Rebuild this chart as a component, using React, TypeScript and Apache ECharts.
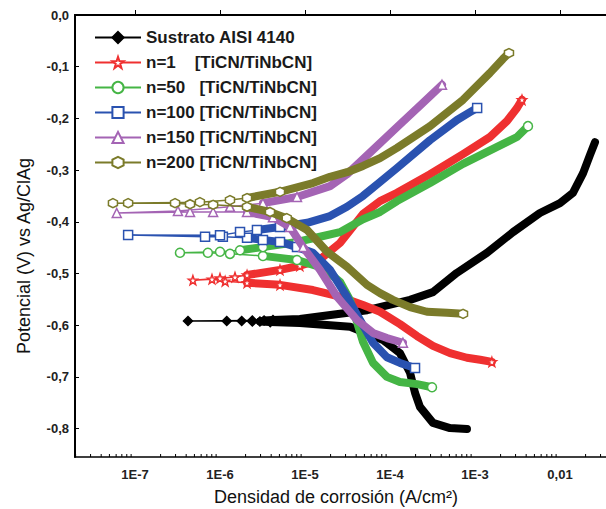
import React, { useEffect, useRef } from 'react';
import * as echarts from 'echarts';

// ---------- data (current density A/cm², potential V) ----------
const SERIES_NAMES = [
  'Sustrato AISI 4140',
  'n=1    [TiCN/TiNbCN]',
  'n=50   [TiCN/TiNbCN]',
  'n=100 [TiCN/TiNbCN]',
  'n=150 [TiCN/TiNbCN]',
  'n=200 [TiCN/TiNbCN]',
];

const sustrato: number[][] = [
  [8.05e-4, -0.801], [5.08e-4, -0.799], [3.2e-4, -0.789], [2.25e-4, -0.758], [1.97e-4, -0.731],
  [1.72e-4, -0.692], [1.31e-4, -0.654], [8.3e-5, -0.629], [3.4e-5, -0.603], [8.7e-6, -0.596],
  [3.9e-6, -0.594], [2.95e-6, -0.593], [2.4e-6, -0.593], [1.8e-6, -0.592], [1.2e-6, -0.592],
  [4.2e-7, -0.592], [2.4e-6, -0.591], [3.3e-6, -0.591], [4.2e-6, -0.59], [8.7e-6, -0.588],
  [2.1e-5, -0.58], [5.4e-5, -0.571], [1.72e-4, -0.551], [3.2e-4, -0.536], [6.1e-4, -0.499],
  [1.38e-3, -0.46], [2.8e-3, -0.42], [5.8e-3, -0.383], [1e-2, -0.364], [1.42e-2, -0.344],
  [1.87e-2, -0.306], [2.25e-2, -0.271], [2.58e-2, -0.246],
];

const n1: number[][] = [
  [1.58e-3, -0.671], [1.15e-3, -0.667], [8.05e-4, -0.663], [5.08e-4, -0.654], [3.2e-4, -0.64],
  [2.08e-4, -0.621], [1.31e-4, -0.598], [7.63e-5, -0.574], [4.81e-5, -0.561], [2.58e-5, -0.545],
  [1.24e-5, -0.532], [5.08e-6, -0.522], [2.08e-6, -0.518], [1.15e-6, -0.515], [8.05e-7, -0.511],
  [4.8e-7, -0.513], [1e-6, -0.509], [1.5e-6, -0.507], [2.08e-6, -0.503], [5.08e-6, -0.493],
  [8.7e-6, -0.485], [1.31e-5, -0.476], [1.63e-5, -0.468], [2.58e-5, -0.441], [4.81e-5, -0.385],
  [7.63e-5, -0.36], [1.21e-4, -0.344], [2.96e-4, -0.308], [7.23e-4, -0.269], [1.5e-3, -0.236],
  [2.38e-3, -0.205], [3.12e-3, -0.18], [3.57e-3, -0.164],
];

const n50: number[][] = [
  [3.12e-4, -0.72], [2.08e-4, -0.714], [1.31e-4, -0.71], [9.2e-5, -0.7], [6.31e-5, -0.673],
  [4.81e-5, -0.632], [4.09e-5, -0.594], [3.38e-5, -0.551], [2.58e-5, -0.516], [1.63e-5, -0.489],
  [8.05e-6, -0.474], [3.2e-6, -0.466], [1.31e-6, -0.462], [7.2e-7, -0.46], [3.38e-7, -0.46],
  [1e-6, -0.458], [1.72e-6, -0.455], [3.2e-6, -0.449], [8.05e-6, -0.439], [1.5e-5, -0.429],
  [2.58e-5, -0.42], [4.81e-5, -0.395], [7.63e-5, -0.381], [1.21e-4, -0.36], [2.96e-4, -0.325],
  [7.23e-4, -0.288], [1.82e-3, -0.255], [3.12e-3, -0.236], [4.2e-3, -0.215],
];

const n100: number[][] = [
  [1.97e-4, -0.683], [1.31e-4, -0.673], [9.2e-5, -0.662], [6.31e-5, -0.634], [4.44e-5, -0.59],
  [3.12e-5, -0.545], [1.97e-5, -0.493], [1.24e-5, -0.46], [8.05e-6, -0.449], [5.08e-6, -0.439],
  [3.2e-6, -0.435], [2.08e-6, -0.431], [1.08e-6, -0.429], [6.67e-7, -0.429], [8.3e-8, -0.4255],
  [1e-6, -0.426], [1.72e-6, -0.42], [2.72e-6, -0.416], [5.08e-6, -0.41], [1.06e-5, -0.402],
  [1.97e-5, -0.389], [3.12e-5, -0.371], [4.81e-5, -0.35], [7.63e-5, -0.323], [1.21e-4, -0.296],
  [2.96e-4, -0.242], [6.14e-4, -0.203], [8.73e-4, -0.188], [1.06e-3, -0.18],
];

const n150: number[][] = [
  [1.42e-4, -0.634], [9.2e-5, -0.625], [6.31e-5, -0.615], [4.09e-5, -0.59], [2.38e-5, -0.545],
  [1.5e-5, -0.493], [9.5e-6, -0.449], [6.67e-6, -0.41], [4.2e-6, -0.391], [2.08e-6, -0.381],
  [8.3e-7, -0.381], [4.44e-7, -0.381], [6.1e-8, -0.383], [3.2e-7, -0.379], [1.31e-6, -0.371],
  [3.2e-6, -0.364], [8.05e-6, -0.352], [1.97e-5, -0.331], [3.12e-5, -0.308], [4.81e-5, -0.279],
  [1.21e-4, -0.217], [2.44e-4, -0.17], [4.09e-4, -0.135],
];

const n200: number[][] = [
  [7.23e-4, -0.578], [4.69e-4, -0.576], [2.72e-4, -0.574], [1.72e-4, -0.565], [1.08e-4, -0.551],
  [7.63e-5, -0.538], [5.36e-5, -0.522], [3.12e-5, -0.487], [1.82e-5, -0.458], [1.06e-5, -0.416],
  [6.1e-6, -0.393], [3.87e-6, -0.381], [2.08e-6, -0.371], [8.3e-7, -0.367], [4.44e-7, -0.366],
  [2.96e-7, -0.364], [8.3e-8, -0.364], [5.5e-8, -0.364], [5.8e-7, -0.362], [1.31e-6, -0.358],
  [2.08e-6, -0.354], [5.08e-6, -0.342], [1.24e-5, -0.325], [1.97e-5, -0.313], [3.12e-5, -0.304],
  [4.81e-5, -0.292], [7.63e-5, -0.277], [1.21e-4, -0.257], [2.96e-4, -0.215], [7.23e-4, -0.164],
  [1.5e-3, -0.112], [2.13e-3, -0.085], [2.51e-3, -0.0735],
];

const SERIES_DATA = [sustrato, n1, n50, n100, n150, n200];

// axis ranges
const X_MIN = 1.968e-8;
const X_MAX = 0.1;
const Y_MIN = -0.855;
const Y_MAX = 0;
const MINOR_DECADES = [-8, -7, -6, -5, -4, -3, -2];
const MINOR_FACTORS = [2, 3, 4, 5, 6, 7, 8, 9];

// ---------- styles ----------
const COLORS = ['#000000', '#ef3030', '#45b545', '#2a52b0', '#a464b4', '#7b7b2a'];
const STAR = 'path://M0,-10 L2.35,-3.24 9.51,-3.09 3.8,1.24 5.88,8.09 0,4 -5.88,8.09 -3.8,1.24 -9.51,-3.09 -2.35,-3.24 Z';
const HEX = 'path://M-8.66,-5 L0,-10 8.66,-5 8.66,5 0,10 -8.66,5 Z';
const SYMBOLS = ['diamond', STAR, 'circle', 'rect', 'triangle', HEX];
const SYM_MAX = [5e-6, 1e-5, 1e-5, 1e-5, 1e-5, 1e-5];
const BAND_MIN = [2.5e-6, 1.8e-6, 1.5e-6, 2e-6, 1.8e-6, 1.8e-6];

const FONT = 'Liberation Sans, Arial, sans-serif';

function fmtX(v: number): string {
  const e = Math.round(Math.log10(v));
  if (e > -2) return '';
  if (e === -2) return '0,01';
  return '1E' + e;
}

function buildOption() {
  const series: any[] = [];
  const bands: any[] = [];
  SERIES_DATA.forEach((data, si) => {
    const color = COLORS[si];
    const filled = si === 0;
    const last = data.length - 1;
    series.push({
      name: SERIES_NAMES[si],
      type: 'line',
      data,
      z: 3 + si * 2 + 1,
      symbol: SYMBOLS[si],
      symbolSize: (v: number[], p: any) =>
        (p.dataIndex === 0 && !filled) || (p.dataIndex === last && !filled) || v[0] < SYM_MAX[si] ? 9 : 0,
      showSymbol: true,
      lineStyle: { color, width: 1.5 },
      itemStyle: { color: filled ? color : '#ffffff', borderColor: color, borderWidth: 1.5 },
      emphasis: { disabled: true },
    });
    // dense-region bands (contiguous runs)
    let run: number[][] = [];
    const flush = () => {
      if (run.length > 1) {
        bands.push({
          name: SERIES_NAMES[si],
          type: 'line',
          data: run,
          z: 3 + si * 2,
          symbol: 'none',
          lineStyle: { color, width: 8, cap: 'round', join: 'round' },
          emphasis: { disabled: true },
        });
      }
      run = [];
    };
    data.forEach((pt) => {
      if (pt[0] >= BAND_MIN[si]) run.push(pt);
      else flush();
    });
    flush();
  });

  const minorData: number[][] = [];
  MINOR_DECADES.forEach((d) =>
    MINOR_FACTORS.forEach((f) => {
      const v = f * Math.pow(10, d);
      if (v > X_MIN && v < X_MAX) minorData.push([v, Y_MIN]);
    })
  );

  return {
    animation: false,
    backgroundColor: '#ffffff',
    textStyle: { fontFamily: FONT },
    grid: {
      left: 75,
      top: 15,
      width: 570,
      height: 442,
      show: true,
      borderColor: '#000',
      borderWidth: 1.5,
      containLabel: false,
      outerBoundsMode: 'none',
    },
    legend: {
      data: SERIES_NAMES,
      orient: 'vertical',
      left: 89,
      top: 24,
      itemWidth: 46,
      itemHeight: 14,
      itemGap: 8,
      selectedMode: false,
      textStyle: { fontSize: 17, fontWeight: 'bold', color: '#1a1a1a', fontFamily: FONT, lineHeight: 17 },
    },
    xAxis: {
      type: 'log',
      logBase: 10,
      min: X_MIN,
      max: X_MAX,
      splitLine: { show: false },
      axisLine: { lineStyle: { color: '#000', width: 2 } },
      axisTick: { inside: true, length: 5, lineStyle: { color: '#000', width: 1 } },
      axisLabel: {
        showMinLabel: false,
        showMaxLabel: false,
        margin: 11,
        fontSize: 13,
        fontWeight: 'bold',
        color: '#222',
        fontFamily: FONT,
        formatter: (v: number) => fmtX(v),
      },
    },
    yAxis: {
      type: 'value',
      min: Y_MIN,
      max: Y_MAX,
      splitNumber: 8,
      splitLine: { show: false },
      axisLine: { show: true, lineStyle: { color: '#000', width: 2 } },
      axisTick: { show: true, inside: true, length: 4, lineStyle: { color: '#000', width: 1 } },
      axisLabel: {
        showMinLabel: false,
        margin: 6,
        fontSize: 13,
        fontWeight: 'bold',
        color: '#222',
        fontFamily: FONT,
        formatter: (v: number) => v.toFixed(1).replace('.', ','),
      },
    },
    graphic: [
      {
        type: 'text',
        x: 336,
        y: 497,
        style: {
          text: 'Densidad de corrosión (A/cm²)',
          fontSize: 18,
          fontFamily: FONT,
          fill: '#111',
          align: 'center',
          verticalAlign: 'middle',
        },
      },
      {
        type: 'text',
        x: 24,
        y: 256,
        rotation: Math.PI / 2,
        style: {
          text: 'Potencial (V) vs Ag/ClAg',
          fontSize: 18,
          fontFamily: FONT,
          fill: '#111',
          align: 'center',
          verticalAlign: 'middle',
        },
      },
    ],
    series: [
      ...series,
      ...bands,
      {
        type: 'custom',
        silent: true,
        data: minorData,
        encode: { x: 0, y: 1 },
        z: 20,
        clip: false,
        renderItem: (params: any, api: any) => {
          const p = api.coord([api.value(0), Y_MIN]);
          return {
            type: 'line',
            shape: { x1: p[0], y1: p[1], x2: p[0], y2: p[1] - 3 },
            style: { stroke: '#000', lineWidth: 1 },
          };
        },
      },
    ],
  };
}

export default function App() {
  const ref = useRef<HTMLDivElement>(null);
  useEffect(() => {
    document.body.style.margin = '0';
    if (!ref.current) return;
    const chart = echarts.init(ref.current, undefined, { renderer: 'svg' });
    chart.setOption(buildOption() as any);
    return () => chart.dispose();
  }, []);
  return <div ref={ref} style={{ width: 606, height: 509 }} />;
}
